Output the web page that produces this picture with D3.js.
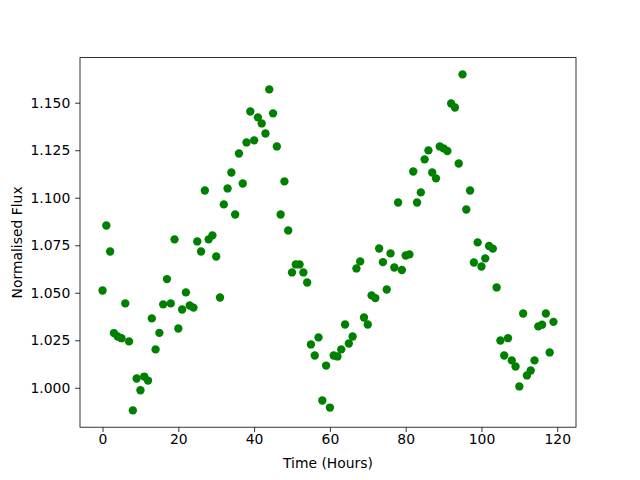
<!DOCTYPE html>
<html>
<head>
<meta charset="utf-8">
<script src="https://cdn.jsdelivr.net/npm/d3@7"></script>
<style>
    body { margin: 0; background: #fff; overflow: hidden; }
    text { font-family: "DejaVu Sans", sans-serif; fill: #000; }
    .tick text { font-size: 13.9px; }
    .axis-label { font-size: 13.9px; }
</style>
</head>
<body>
<div id="chart"></div>
<script>
// Time of each measurement (hours)
const hours = [
    0, 1, 2, 3, 4, 5, 6, 7, 8, 9, 10, 11, 12, 13, 14, 15, 16, 17, 18, 19,
    20, 21, 22, 23, 24, 25, 26, 27, 28, 29, 30, 31, 32, 33, 34, 35, 36, 37, 38, 39,
    40, 41, 42, 43, 44, 45, 46, 47, 48, 49, 50, 51, 52, 53, 54, 55, 56, 57, 58, 59,
    60, 61, 62, 63, 64, 65, 66, 67, 68, 69, 70, 71, 72, 73, 74, 75, 76, 77, 78, 79,
    80, 81, 82, 83, 84, 85, 86, 87, 88, 89, 90, 91, 92, 93, 94, 95, 96, 97, 98, 99,
    100, 101, 102, 103, 104, 105, 106, 107, 108, 109, 110, 111, 112, 113, 114, 115, 116, 117, 118, 119
];

// Normalised flux
const flux = [
    1.0512, 1.0854, 1.0717, 1.0288, 1.0270, 1.0261, 1.0444, 1.0244, 0.9881, 1.0049,
    0.9987, 1.0059, 1.0038, 1.0365, 1.0202, 1.0289, 1.0439, 1.0572, 1.0444, 1.0781,
    1.0312, 1.0412, 1.0502, 1.0433, 1.0422, 1.0770, 1.0717, 1.1038, 1.0781, 1.0802,
    1.0691, 1.0475, 1.0965, 1.1049, 1.1133, 1.0912, 1.1233, 1.1075, 1.1291, 1.1454,
    1.1302, 1.1423, 1.1391, 1.1338, 1.1570, 1.1444, 1.1270, 1.0912, 1.1086, 1.0828,
    1.0607, 1.0649, 1.0649, 1.0607, 1.0554, 1.0228, 1.0170, 1.0265, 0.9933, 1.0117,
    0.9896, 1.0170, 1.0165, 1.0202, 1.0333, 1.0233, 1.0270, 1.0628, 1.0665, 1.0370,
    1.0333, 1.0486, 1.0472, 1.0733, 1.0661, 1.0517, 1.0707, 1.0633, 1.0975, 1.0620,
    1.0696, 1.0702, 1.1138, 1.0975, 1.1028, 1.1202, 1.1249, 1.1133, 1.1102, 1.1270,
    1.1260, 1.1246, 1.1496, 1.1475, 1.1180, 1.1649, 1.0938, 1.1038, 1.0659, 1.0765,
    1.0638, 1.0681, 1.0746, 1.0732, 1.0528, 1.0249, 1.0170, 1.0261, 1.0144, 1.0112,
    1.0007, 1.0391, 1.0065, 1.0091, 1.0144, 1.0323, 1.0332, 1.0391, 1.0186, 1.0347
];

const xTicks = [0, 20, 40, 60, 80, 100, 120];
const yTicks = [1.000, 1.025, 1.050, 1.075, 1.100, 1.125, 1.150];

const width = 640;
const height = 480;
const margin = {top: 57.6, right: 64, bottom: 52.8, left: 80};
const innerWidth = width - margin.left - margin.right;
const innerHeight = height - margin.top - margin.bottom;
const tickLen = 4.86;

const svg = d3.select("#chart")
    .append("svg")
    .attr("width", width)
    .attr("height", height)
    .style("display", "block");

const g = svg.append("g")
    .attr("transform", `translate(${margin.left}, ${margin.top})`);

// matplotlib style 5% padding around the data
function padded(extent) {
    const pad = (extent[1] - extent[0]) * 0.05;
    return [extent[0] - pad, extent[1] + pad];
}

const x = d3.scaleLinear()
    .domain(padded(d3.extent(hours)))
    .range([0, innerWidth]);

const y = d3.scaleLinear()
    .domain(padded(d3.extent(flux)))
    .range([innerHeight, 0]);

const data = hours.map((h, i) => ({hour: h, flux: flux[i]}));

// Points
g.append("g")
    .selectAll("circle")
    .data(data)
    .enter()
    .append("circle")
    .attr("cx", d => x(d.hour))
    .attr("cy", d => y(d.flux))
    .attr("r", 4.17)
    .attr("fill", "#008000");

// Axes
const xAxis = g.append("g")
    .attr("transform", `translate(0, ${innerHeight})`)
    .call(d3.axisBottom(x).tickValues(xTicks).tickFormat(d3.format("d"))
        .tickSize(tickLen).tickPadding(2).tickSizeOuter(0));

const yAxis = g.append("g")
    .call(d3.axisLeft(y).tickValues(yTicks).tickFormat(d3.format(".3f"))
        .tickSize(tickLen).tickPadding(4.86).tickSizeOuter(0));

[xAxis, yAxis].forEach(ax => {
    ax.attr("font-family", null).attr("font-size", null);
    ax.select(".domain").remove();
    ax.selectAll(".tick line").attr("stroke", "#000").attr("stroke-width", 0.8);
});

// Frame
g.append("rect")
    .attr("width", innerWidth)
    .attr("height", innerHeight)
    .attr("fill", "none")
    .attr("stroke", "#000")
    .attr("stroke-width", 0.8);

// Axis labels
svg.append("text")
    .text("Time (Hours)")
    .classed("axis-label", true)
    .style("text-anchor", "middle")
    .attr("x", margin.left + innerWidth / 2)
    .attr("y", 468);

svg.append("text")
    .text("Normalised Flux")
    .classed("axis-label", true)
    .style("text-anchor", "middle")
    .attr("transform", `translate(22, ${margin.top + innerHeight / 2}) rotate(-90)`);
</script>
</body>
</html>
